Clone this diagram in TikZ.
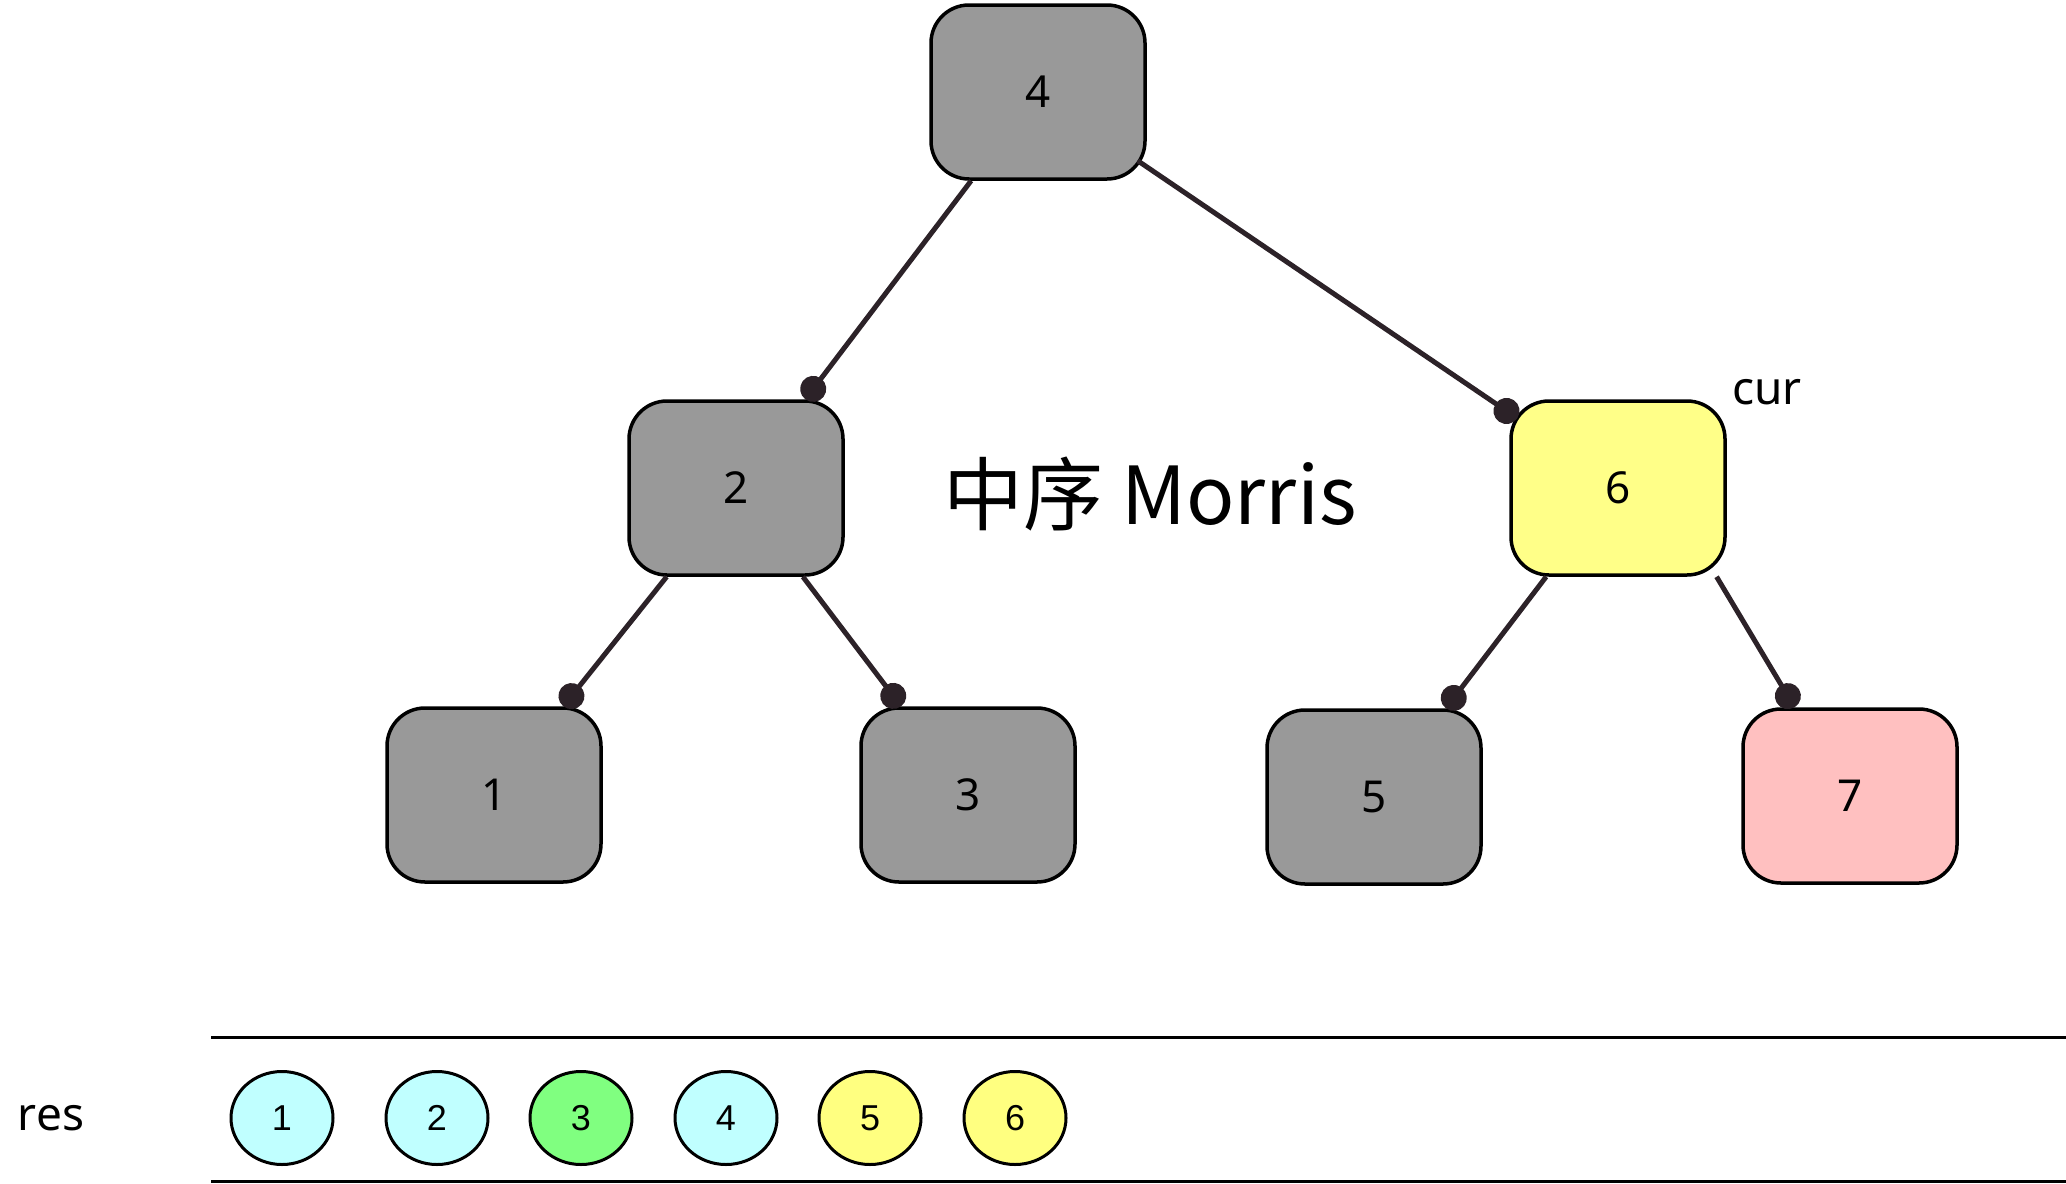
\documentclass[tikz,border=0pt]{standalone}
\usepackage{fontspec}
\setmainfont{Noto Sans}
\newfontfamily\cjkfont{Noto Sans CJK SC}
\newfontfamily\helvfont{Liberation Sans}
\usetikzlibrary{arrows.meta,shapes.geometric,calc}

\definecolor{boxgray}{RGB}{153,153,153}
\definecolor{boxyellow}{RGB}{255,255,136}
\definecolor{boxpink}{RGB}{255,192,192}
\definecolor{edgecol}{RGB}{44,34,40}
\definecolor{rescyan}{RGB}{192,255,255}
\definecolor{resgreen}{RGB}{128,255,128}
\definecolor{resyellow}{RGB}{255,255,128}

\begin{document}
\begin{tikzpicture}[x=1pt,y=-1pt,
  treenode/.style={draw=black, line width=3.5pt, rounded corners=38pt,
    minimum width=214pt, minimum height=174pt, inner sep=0pt,
    font=\fontsize{44}{44}\selectfont},
  edge/.style={draw=edgecol, line width=5pt, -{Circle[length=26pt]}},
  resitem/.style={ellipse, draw=black, line width=3pt,
    minimum width=102pt, minimum height=93pt, inner sep=0pt,
    font=\helvfont\fontsize{36}{36}\selectfont},
  rule/.style={draw=black, line width=3pt},
  label/.style={inner sep=0pt, font=\fontsize{46}{46}\selectfont}]

\useasboundingbox (0,0) rectangle (2066,1183);

% tree
\node[treenode, fill=boxgray]   (n4) at (1038,92)  {4};
\node[treenode, fill=boxgray]   (n2) at (736,488)  {2};
\node[treenode, fill=boxyellow] (n6) at (1618,488) {6};
\node[treenode, fill=boxgray]   (n1) at (494,795)  {1};
\node[treenode, fill=boxgray]   (n3) at (968,795)  {3};
\node[treenode, fill=boxgray]   (n5) at (1374,797) {5};
\node[treenode, fill=boxpink]   (n7) at (1850,796) {7};

\draw[edge] (n4.233) -- (n2.52);
\draw[edge] ($(n4.south east)+(-9,-20)$) -- ($(n6.north west)+(8,19)$);
\draw[edge] (n2.232) -- (n1.52);
\draw[edge] (n2.307) -- (n3.127);
\draw[edge] (n6.231) -- (n5.51);
\draw[edge] (n6.318) -- (n7.122);

% labels
\node[label] (curlbl) at (1767,392) {cur};
\node[inner sep=0pt, font=\cjkfont\fontsize{80}{80}\selectfont] (title) at (1150,494) {中序 Morris};

% result strip
\coordinate (ruleA) at (211,1037);
\coordinate (ruleB) at (2066,1037);
\coordinate (ruleC) at (211,1181);
\coordinate (ruleD) at (2066,1181);
\draw[rule] (ruleA) -- (ruleB);
\draw[rule] (ruleC) -- (ruleD);

\node[label] (reslbl) at (51,1118) {res};
\node[resitem, fill=rescyan]   (r1) at (282,1118)  {1};
\node[resitem, fill=rescyan]   (r2) at (437,1118)  {2};
\node[resitem, fill=resgreen]  (r3) at (581,1118)  {3};
\node[resitem, fill=rescyan]   (r4) at (726,1118)  {4};
\node[resitem, fill=resyellow] (r5) at (870,1118)  {5};
\node[resitem, fill=resyellow] (r6) at (1015,1118) {6};
\end{tikzpicture}
\end{document}
